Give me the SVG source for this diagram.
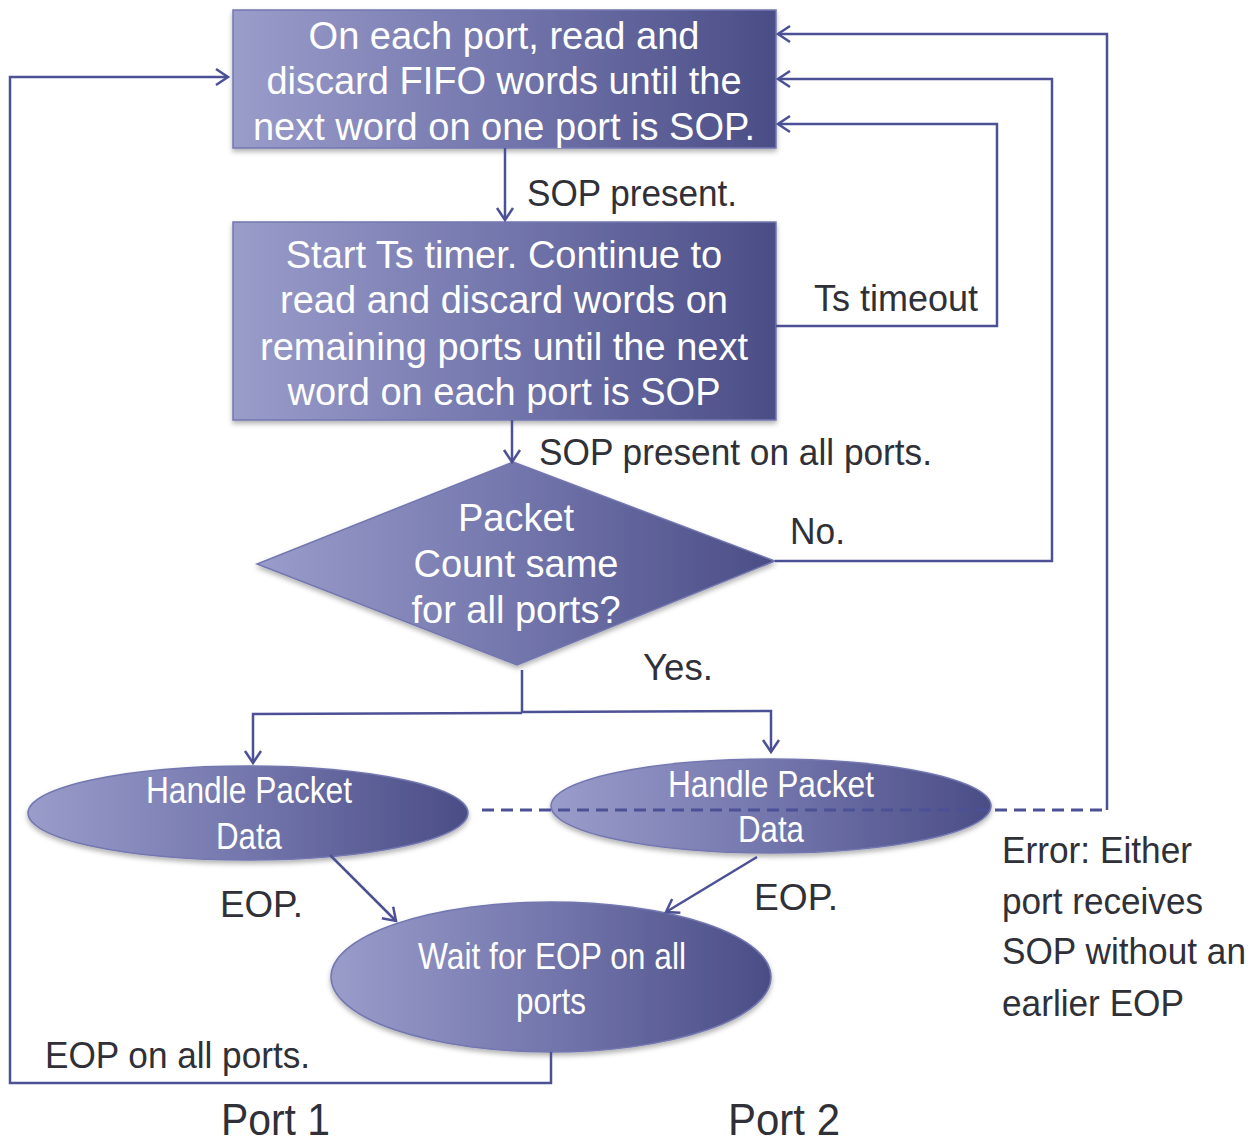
<svg xmlns="http://www.w3.org/2000/svg" width="1258" height="1142" viewBox="0 0 1258 1142">
<style>
.node{fill:url(#g);stroke:#7377b0;stroke-width:1.5;filter:url(#sh)}
.nt{font-family:"Liberation Sans",Arial,sans-serif;font-size:38px;fill:#ffffff;text-anchor:middle}
.et{font-family:"Liberation Sans",Arial,sans-serif;font-size:36px;fill:#ffffff;text-anchor:middle}
.lb{font-family:"Liberation Sans",Arial,sans-serif;font-size:36px;fill:#303038}
.pt{font-family:"Liberation Sans",Arial,sans-serif;font-size:44px;fill:#303038}
.c{fill:none;stroke:#4c5196;stroke-width:2.5}
.a{marker-end:url(#ar)}
.d{stroke-dasharray:12 7;stroke-width:3}
</style>
<defs>
<linearGradient id="g" x1="0" y1="0" x2="1" y2="0">
<stop offset="0" stop-color="#9a9cca"/>
<stop offset="0.5" stop-color="#7376ac"/>
<stop offset="1" stop-color="#4b4d86"/>
</linearGradient>
<filter id="sh" x="-10%" y="-10%" width="120%" height="130%">
<feDropShadow dx="0" dy="3" stdDeviation="2.5" flood-color="#000" flood-opacity="0.3"/>
</filter>
<marker id="ar" markerUnits="userSpaceOnUse" markerWidth="20" markerHeight="20" refX="15" refY="10" orient="auto" viewBox="0 0 20 20">
<path d="M3,2 L15,10 L3,18" fill="none" stroke="#4c5196" stroke-width="2.5"/>
</marker>
</defs>

<g id="box1">
<rect class="node" x="233" y="10" width="543" height="138"/>
<text class="nt" x="504" y="49">On each port, read and</text>
<text class="nt" x="504" y="94">discard FIFO words until the</text>
<text class="nt" x="504" y="140">next word on one port is SOP.</text>
</g>

<g id="box2">
<rect class="node" x="233" y="222" width="543" height="198"/>
<text class="nt" x="504" y="268">Start Ts timer. Continue to</text>
<text class="nt" x="504" y="313">read and discard words on</text>
<text class="nt" x="504" y="360">remaining ports until the next</text>
<text class="nt" x="504" y="405">word on each port is SOP</text>
</g>

<g id="diamond">
<polygon class="node" points="513,462 775,561 517,665 257,564"/>
<text class="nt" x="516" y="531">Packet</text>
<text class="nt" x="516" y="577">Count same</text>
<text class="nt" x="516" y="623">for all ports?</text>
</g>

<g id="handle1">
<ellipse class="node" cx="248" cy="813" rx="220" ry="47"/>
<text class="et" x="249" y="803" textLength="206" lengthAdjust="spacingAndGlyphs">Handle Packet</text>
<text class="et" x="249" y="849" textLength="66" lengthAdjust="spacingAndGlyphs">Data</text>
</g>

<g id="handle2">
<ellipse class="node" cx="771" cy="806" rx="220" ry="47"/>
<text class="et" x="771" y="797" textLength="206" lengthAdjust="spacingAndGlyphs">Handle Packet</text>
<text class="et" x="771" y="842" textLength="66" lengthAdjust="spacingAndGlyphs">Data</text>
</g>

<g id="wait">
<ellipse class="node" cx="551" cy="977" rx="220" ry="75"/>
<text class="et" x="552" y="969" textLength="268" lengthAdjust="spacingAndGlyphs">Wait for EOP on all</text>
<text class="et" x="551" y="1014" textLength="70" lengthAdjust="spacingAndGlyphs">ports</text>
</g>

<g id="connectors">
<path class="c a" d="M505,148 L505,220"/>
<path class="c a" d="M512,420 L512,462"/>
<path class="c a" d="M776,326 L997,326 L997,124 L778,124"/>
<path class="c a" d="M775,561 L1052,561 L1052,79 L778,79"/>
<path class="c d" d="M482,810 L1107,810"/>
<path class="c a" d="M1107,810 L1107,34 L778,34"/>
<path class="c" d="M522,670 L522,712"/>
<path class="c a" d="M522,713 L253,714 L253,763"/>
<path class="c a" d="M522,712 L771,711 L771,752"/>
<path class="c a" d="M330,855 L396,921"/>
<path class="c a" d="M757,857 L666,912"/>
<path class="c a" d="M551,1052 L551,1083 L10,1083 L10,77 L228,77"/>
</g>

<g id="labels">
<text class="lb" x="527" y="206" textLength="210" lengthAdjust="spacingAndGlyphs">SOP present.</text>
<text class="lb" x="814" y="311" textLength="164" lengthAdjust="spacingAndGlyphs">Ts timeout</text>
<text class="lb" x="539" y="465" textLength="393" lengthAdjust="spacingAndGlyphs">SOP present on all ports.</text>
<text class="lb" x="790" y="544" textLength="55" lengthAdjust="spacingAndGlyphs">No.</text>
<text class="lb" x="643" y="680" textLength="70" lengthAdjust="spacingAndGlyphs">Yes.</text>
<text class="lb" x="220" y="917" textLength="83" lengthAdjust="spacingAndGlyphs">EOP.</text>
<text class="lb" x="754" y="910" textLength="84" lengthAdjust="spacingAndGlyphs">EOP.</text>
<text class="lb" x="1002" y="863" textLength="190" lengthAdjust="spacingAndGlyphs">Error: Either</text>
<text class="lb" x="1002" y="914" textLength="201" lengthAdjust="spacingAndGlyphs">port receives</text>
<text class="lb" x="1002" y="964" textLength="244" lengthAdjust="spacingAndGlyphs">SOP without an</text>
<text class="lb" x="1002" y="1016" textLength="182" lengthAdjust="spacingAndGlyphs">earlier EOP</text>
<text class="lb" x="45" y="1068" textLength="265" lengthAdjust="spacingAndGlyphs">EOP on all ports.</text>
<text class="pt" x="221" y="1135" textLength="109" lengthAdjust="spacingAndGlyphs">Port 1</text>
<text class="pt" x="728" y="1135" textLength="112" lengthAdjust="spacingAndGlyphs">Port 2</text>
</g>
</svg>
